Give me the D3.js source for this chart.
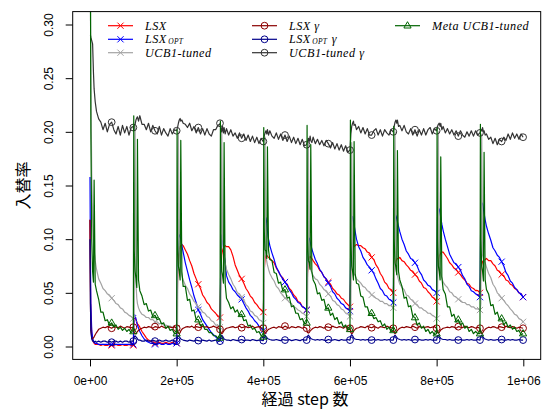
<!DOCTYPE html>
<html>
<head>
  <meta charset="utf-8">
  <title>入替率</title>
  <script src="https://cdn.jsdelivr.net/npm/d3@7/dist/d3.min.js"></script>
  <style>
    body { margin: 0; background: #fff; }
    svg { display: block; }
  </style>
</head>
<body>
  <svg width="545" height="410"></svg>
  <script>
    // step offsets inside each 1e5-step period (environment changes at every period start)
    const periodStarts = [0, 100000, 200000, 300000, 400000, 500000, 600000, 700000, 800000, 900000];
    const offsets = [0, 1000, 2000, 4000, 6000, 8000, 9500, 12000, 15000, 20000, 25000, 30000, 35000,
      40000, 45000, 50000, 55000, 60000, 65000, 70000, 75000, 80000, 85000, 90000, 95000, 99500];

    const xTicks = [0, 200000, 400000, 600000, 800000, 1000000];
    const xTickLabels = ['0e+00', '2e+05', '4e+05', '6e+05', '8e+05', '1e+06'];
    const yTicks = [0, 0.05, 0.10, 0.15, 0.20, 0.25, 0.30];
    const yTickLabels = ['0.00', '0.05', '0.10', '0.15', '0.20', '0.25', '0.30'];

    // LSX
    const lsx = [
      [0.118, 0.06, 0.03, 0.012, 0.006, 0.004, 0.003, 0.002, 0.002, 0.002, 0.001, 0.002, 0.001, 0.001, 0.002, 0.001, 0.001, 0.002, 0.001, 0.001, 0.002, 0.001, 0.001, 0.002, 0.001, 0.001],
      [0.001, 0.02, 0.028, 0.027, 0.025, 0.023, 0.021, 0.02, 0.018, 0.014, 0.011, 0.008, 0.006, 0.005, 0.004, 0.003, 0.003, 0.004, 0.003, 0.003, 0.004, 0.003, 0.003, 0.004, 0.003, 0.003],
      [0.003, 0.03, 0.06, 0.085, 0.09, 0.093, 0.094, 0.095, 0.094, 0.09, 0.086, 0.08, 0.075, 0.068, 0.063, 0.058, 0.054, 0.048, 0.045, 0.041, 0.039, 0.035, 0.033, 0.031, 0.028, 0.027],
      [0.027, 0.05, 0.07, 0.085, 0.09, 0.092, 0.093, 0.094, 0.093, 0.093, 0.09, 0.084, 0.076, 0.071, 0.066, 0.063, 0.059, 0.054, 0.051, 0.047, 0.045, 0.041, 0.039, 0.036, 0.034, 0.032],
      [0.032, 0.05, 0.07, 0.082, 0.085, 0.085, 0.084, 0.083, 0.082, 0.08, 0.078, 0.073, 0.07, 0.066, 0.064, 0.06, 0.058, 0.054, 0.052, 0.048, 0.046, 0.042, 0.041, 0.037, 0.036, 0.034],
      [0.034, 0.05, 0.068, 0.08, 0.083, 0.084, 0.083, 0.082, 0.08, 0.077, 0.075, 0.071, 0.069, 0.065, 0.063, 0.06, 0.058, 0.054, 0.052, 0.049, 0.048, 0.045, 0.044, 0.041, 0.039, 0.037],
      [0.037, 0.055, 0.075, 0.088, 0.092, 0.093, 0.093, 0.094, 0.095, 0.094, 0.094, 0.092, 0.091, 0.088, 0.087, 0.083, 0.081, 0.076, 0.073, 0.068, 0.065, 0.06, 0.058, 0.054, 0.053, 0.05],
      [0.05, 0.06, 0.07, 0.077, 0.08, 0.081, 0.082, 0.082, 0.083, 0.08, 0.079, 0.076, 0.074, 0.071, 0.07, 0.067, 0.065, 0.061, 0.059, 0.055, 0.054, 0.051, 0.049, 0.046, 0.045, 0.042],
      [0.042, 0.055, 0.07, 0.08, 0.084, 0.086, 0.087, 0.088, 0.088, 0.085, 0.082, 0.078, 0.076, 0.073, 0.072, 0.069, 0.067, 0.064, 0.062, 0.059, 0.058, 0.055, 0.054, 0.052, 0.052, 0.05],
      [0.05, 0.06, 0.07, 0.076, 0.079, 0.08, 0.08, 0.081, 0.082, 0.08, 0.08, 0.077, 0.075, 0.071, 0.07, 0.067, 0.066, 0.062, 0.061, 0.058, 0.057, 0.054, 0.053, 0.05, 0.049, 0.046]
    ];

    // LSX_OPT
    const lsxOpt = [
      [0.158, 0.08, 0.04, 0.015, 0.008, 0.005, 0.004, 0.003, 0.003, 0.002, 0.002, 0.002, 0.002, 0.002, 0.002, 0.002, 0.002, 0.002, 0.002, 0.002, 0.002, 0.002, 0.002, 0.002, 0.002, 0.002],
      [0.002, 0.02, 0.03, 0.029, 0.026, 0.022, 0.02, 0.017, 0.014, 0.01, 0.007, 0.005, 0.004, 0.003, 0.003, 0.002, 0.002, 0.003, 0.002, 0.002, 0.003, 0.002, 0.002, 0.003, 0.002, 0.002],
      [0.003, 0.04, 0.08, 0.1, 0.104, 0.103, 0.1, 0.094, 0.088, 0.078, 0.07, 0.062, 0.055, 0.047, 0.041, 0.034, 0.03, 0.025, 0.022, 0.019, 0.016, 0.013, 0.011, 0.009, 0.007, 0.006],
      [0.006, 0.05, 0.09, 0.104, 0.1, 0.092, 0.086, 0.078, 0.066, 0.06, 0.057, 0.053, 0.051, 0.048, 0.046, 0.044, 0.04, 0.036, 0.033, 0.029, 0.027, 0.024, 0.022, 0.019, 0.017, 0.015],
      [0.015, 0.06, 0.1, 0.118, 0.12, 0.115, 0.108, 0.1, 0.094, 0.087, 0.081, 0.074, 0.07, 0.066, 0.063, 0.06, 0.057, 0.053, 0.05, 0.046, 0.044, 0.041, 0.04, 0.037, 0.036, 0.034],
      [0.034, 0.06, 0.09, 0.1, 0.101, 0.098, 0.095, 0.091, 0.087, 0.081, 0.077, 0.072, 0.069, 0.065, 0.063, 0.059, 0.056, 0.051, 0.049, 0.045, 0.043, 0.04, 0.039, 0.036, 0.035, 0.033],
      [0.033, 0.07, 0.105, 0.12, 0.121, 0.117, 0.113, 0.107, 0.1, 0.093, 0.089, 0.083, 0.08, 0.076, 0.074, 0.071, 0.068, 0.063, 0.059, 0.054, 0.052, 0.048, 0.047, 0.044, 0.043, 0.041],
      [0.041, 0.08, 0.11, 0.122, 0.122, 0.119, 0.116, 0.112, 0.107, 0.1, 0.095, 0.089, 0.086, 0.082, 0.081, 0.078, 0.075, 0.07, 0.067, 0.062, 0.06, 0.057, 0.056, 0.053, 0.052, 0.05],
      [0.05, 0.09, 0.12, 0.129, 0.128, 0.124, 0.12, 0.114, 0.108, 0.1, 0.093, 0.086, 0.082, 0.078, 0.077, 0.074, 0.071, 0.066, 0.063, 0.058, 0.056, 0.052, 0.051, 0.049, 0.048, 0.046],
      [0.046, 0.09, 0.125, 0.134, 0.133, 0.128, 0.124, 0.118, 0.112, 0.105, 0.099, 0.092, 0.089, 0.085, 0.083, 0.079, 0.075, 0.069, 0.066, 0.061, 0.059, 0.055, 0.053, 0.05, 0.049, 0.046]
    ];

    // UCB1-tuned
    const ucb = [
      [0.35, 0.32, 0.25, 0.16, 0.12, 0.1, 0.09, 0.08, 0.072, 0.063, 0.059, 0.054, 0.052, 0.049, 0.048, 0.045, 0.043, 0.04, 0.039, 0.036, 0.035, 0.032, 0.031, 0.029, 0.028, 0.026],
      [0.026, 0.027, 0.028, 0.205, 0.06, 0.045, 0.04, 0.036, 0.033, 0.03, 0.029, 0.027, 0.027, 0.025, 0.025, 0.023, 0.023, 0.021, 0.022, 0.02, 0.02, 0.019, 0.019, 0.018, 0.018, 0.017],
      [0.017, 0.018, 0.02, 0.2, 0.09, 0.078, 0.072, 0.066, 0.062, 0.057, 0.054, 0.049, 0.046, 0.042, 0.04, 0.037, 0.035, 0.032, 0.031, 0.028, 0.027, 0.024, 0.023, 0.02, 0.02, 0.018],
      [0.018, 0.02, 0.022, 0.205, 0.1, 0.09, 0.085, 0.078, 0.072, 0.067, 0.063, 0.058, 0.055, 0.05, 0.049, 0.046, 0.043, 0.039, 0.037, 0.033, 0.032, 0.029, 0.028, 0.025, 0.024, 0.022],
      [0.022, 0.024, 0.026, 0.195, 0.085, 0.079, 0.076, 0.072, 0.068, 0.064, 0.061, 0.056, 0.054, 0.05, 0.048, 0.045, 0.044, 0.041, 0.04, 0.037, 0.036, 0.034, 0.033, 0.031, 0.03, 0.028],
      [0.028, 0.03, 0.032, 0.19, 0.075, 0.072, 0.071, 0.069, 0.066, 0.063, 0.062, 0.058, 0.056, 0.053, 0.052, 0.049, 0.047, 0.043, 0.042, 0.039, 0.038, 0.035, 0.034, 0.031, 0.031, 0.028],
      [0.028, 0.03, 0.032, 0.19, 0.075, 0.07, 0.068, 0.066, 0.063, 0.061, 0.059, 0.056, 0.055, 0.052, 0.051, 0.048, 0.047, 0.045, 0.044, 0.042, 0.042, 0.04, 0.04, 0.038, 0.038, 0.036],
      [0.036, 0.038, 0.04, 0.2, 0.072, 0.068, 0.066, 0.062, 0.058, 0.055, 0.053, 0.048, 0.047, 0.044, 0.043, 0.04, 0.039, 0.036, 0.036, 0.034, 0.033, 0.031, 0.031, 0.029, 0.028, 0.026],
      [0.026, 0.028, 0.03, 0.2, 0.075, 0.07, 0.068, 0.064, 0.06, 0.057, 0.055, 0.051, 0.05, 0.047, 0.046, 0.044, 0.043, 0.041, 0.041, 0.039, 0.039, 0.037, 0.037, 0.035, 0.035, 0.034],
      [0.034, 0.036, 0.04, 0.198, 0.085, 0.082, 0.08, 0.078, 0.074, 0.068, 0.064, 0.058, 0.055, 0.05, 0.048, 0.045, 0.043, 0.04, 0.038, 0.035, 0.033, 0.03, 0.029, 0.026, 0.025, 0.023]
    ];

    // LSX γ
    const lsxG = [
      [0.118, 0.04, 0.015, 0.008, 0.007, 0.008, 0.009, 0.011, 0.013, 0.016, 0.017, 0.018, 0.0175, 0.0185, 0.018, 0.017, 0.0185, 0.018, 0.0175, 0.019, 0.018, 0.017, 0.0185, 0.018, 0.0175, 0.018],
      [0.018, 0.015, 0.013, 0.012, 0.012, 0.013, 0.014, 0.015, 0.016, 0.017, 0.018, 0.0175, 0.0185, 0.018, 0.017, 0.0185, 0.018, 0.0175, 0.019, 0.018, 0.017, 0.0185, 0.018, 0.0175, 0.0185, 0.017],
      [0.017, 0.015, 0.013, 0.0125, 0.012, 0.013, 0.0145, 0.016, 0.017, 0.018, 0.0185, 0.018, 0.019, 0.0175, 0.0185, 0.018, 0.0175, 0.019, 0.018, 0.0185, 0.0175, 0.018, 0.019, 0.018, 0.0175, 0.016],
      [0.016, 0.014, 0.0125, 0.012, 0.0125, 0.014, 0.015, 0.016, 0.017, 0.0175, 0.018, 0.0185, 0.0175, 0.018, 0.019, 0.0175, 0.018, 0.0185, 0.0175, 0.018, 0.019, 0.0175, 0.018, 0.0185, 0.0175, 0.017],
      [0.017, 0.015, 0.013, 0.012, 0.013, 0.014, 0.015, 0.016, 0.0165, 0.0175, 0.018, 0.017, 0.0185, 0.018, 0.0175, 0.019, 0.018, 0.017, 0.0185, 0.018, 0.0175, 0.0185, 0.018, 0.017, 0.018, 0.017],
      [0.017, 0.0145, 0.013, 0.0125, 0.013, 0.0145, 0.015, 0.016, 0.017, 0.018, 0.0175, 0.0185, 0.018, 0.017, 0.0185, 0.018, 0.0175, 0.019, 0.018, 0.0175, 0.0185, 0.018, 0.017, 0.0185, 0.018, 0.017],
      [0.017, 0.015, 0.013, 0.012, 0.0125, 0.014, 0.015, 0.016, 0.017, 0.0175, 0.0185, 0.018, 0.0175, 0.019, 0.018, 0.0175, 0.0185, 0.018, 0.017, 0.0185, 0.018, 0.0175, 0.019, 0.018, 0.0175, 0.017],
      [0.017, 0.0145, 0.013, 0.012, 0.013, 0.014, 0.015, 0.016, 0.017, 0.018, 0.0175, 0.0185, 0.018, 0.0175, 0.019, 0.018, 0.017, 0.0185, 0.018, 0.0175, 0.018, 0.0185, 0.0175, 0.018, 0.0185, 0.017],
      [0.017, 0.015, 0.013, 0.0125, 0.013, 0.0145, 0.0155, 0.016, 0.017, 0.0175, 0.018, 0.0175, 0.0185, 0.018, 0.017, 0.0185, 0.018, 0.0175, 0.019, 0.018, 0.0175, 0.0185, 0.018, 0.017, 0.018, 0.017],
      [0.017, 0.0145, 0.013, 0.012, 0.0125, 0.014, 0.015, 0.016, 0.017, 0.018, 0.0175, 0.0185, 0.018, 0.017, 0.0185, 0.018, 0.0175, 0.019, 0.018, 0.0175, 0.0185, 0.018, 0.017, 0.018, 0.0175, 0.017]
    ];

    // LSX_OPT γ
    const lsxOptG = [
      [0.1, 0.04, 0.015, 0.007, 0.005, 0.005, 0.004, 0.005, 0.004, 0.005, 0.004, 0.005, 0.005, 0.004, 0.005, 0.004, 0.005, 0.005, 0.004, 0.005, 0.004, 0.005, 0.005, 0.004, 0.005, 0.005],
      [0.005, 0.007, 0.009, 0.01, 0.009, 0.008, 0.007, 0.006, 0.006, 0.005, 0.005, 0.006, 0.005, 0.005, 0.006, 0.005, 0.005, 0.006, 0.005, 0.005, 0.006, 0.005, 0.005, 0.006, 0.005, 0.005],
      [0.005, 0.007, 0.0095, 0.01, 0.009, 0.008, 0.007, 0.0065, 0.006, 0.0055, 0.005, 0.006, 0.0055, 0.005, 0.006, 0.0055, 0.005, 0.006, 0.0055, 0.005, 0.006, 0.005, 0.0055, 0.006, 0.005, 0.005],
      [0.005, 0.0075, 0.009, 0.0105, 0.0095, 0.008, 0.007, 0.0065, 0.006, 0.006, 0.0055, 0.0065, 0.006, 0.0055, 0.006, 0.0065, 0.0055, 0.006, 0.006, 0.0055, 0.0065, 0.006, 0.0055, 0.006, 0.006, 0.0055],
      [0.0055, 0.0075, 0.0095, 0.0105, 0.0095, 0.0085, 0.0075, 0.007, 0.0065, 0.006, 0.006, 0.0065, 0.006, 0.0055, 0.0065, 0.006, 0.006, 0.0065, 0.0055, 0.006, 0.0065, 0.006, 0.0055, 0.0065, 0.006, 0.006],
      [0.006, 0.008, 0.0095, 0.0105, 0.0095, 0.0085, 0.0075, 0.007, 0.0065, 0.006, 0.0065, 0.006, 0.0065, 0.006, 0.0055, 0.0065, 0.006, 0.006, 0.0065, 0.006, 0.0055, 0.0065, 0.006, 0.006, 0.0065, 0.006],
      [0.006, 0.008, 0.01, 0.011, 0.01, 0.0085, 0.0075, 0.007, 0.0065, 0.0065, 0.006, 0.0065, 0.006, 0.0065, 0.006, 0.006, 0.0065, 0.006, 0.0065, 0.006, 0.006, 0.0065, 0.006, 0.0065, 0.006, 0.006],
      [0.006, 0.008, 0.0095, 0.0105, 0.0095, 0.0085, 0.0075, 0.007, 0.0065, 0.006, 0.0065, 0.006, 0.0065, 0.006, 0.006, 0.0065, 0.006, 0.0065, 0.006, 0.006, 0.0065, 0.006, 0.0065, 0.006, 0.006, 0.006],
      [0.006, 0.008, 0.01, 0.0105, 0.0095, 0.0085, 0.0075, 0.007, 0.0065, 0.0065, 0.006, 0.0065, 0.006, 0.006, 0.0065, 0.006, 0.0065, 0.006, 0.006, 0.0065, 0.006, 0.0065, 0.006, 0.006, 0.0065, 0.006],
      [0.006, 0.008, 0.0095, 0.0105, 0.0095, 0.0085, 0.0075, 0.007, 0.0065, 0.006, 0.0065, 0.006, 0.006, 0.0065, 0.006, 0.0065, 0.006, 0.006, 0.0065, 0.006, 0.0065, 0.006, 0.006, 0.0065, 0.006, 0.006]
    ];

    // UCB1-tuned γ
    const ucbG = [
      [0.29, 0.29, 0.288, 0.285, 0.282, 0.255, 0.24, 0.228, 0.219, 0.212, 0.209, 0.202, 0.208, 0.2, 0.207, 0.209, 0.202, 0.198, 0.205, 0.197, 0.206, 0.199, 0.205, 0.197, 0.204, 0.205],
      [0.204, 0.201, 0.206, 0.207, 0.211, 0.213, 0.214, 0.21, 0.215, 0.207, 0.207, 0.202, 0.208, 0.2, 0.206, 0.201, 0.198, 0.205, 0.197, 0.203, 0.199, 0.196, 0.203, 0.198, 0.202, 0.201],
      [0.201, 0.203, 0.204, 0.208, 0.211, 0.2125, 0.21, 0.211, 0.208, 0.207, 0.204, 0.208, 0.201, 0.205, 0.199, 0.204, 0.198, 0.203, 0.197, 0.203, 0.198, 0.196, 0.202, 0.202, 0.206, 0.207],
      [0.208, 0.205, 0.204, 0.2, 0.205, 0.199, 0.204, 0.198, 0.203, 0.197, 0.202, 0.196, 0.199, 0.194, 0.199, 0.194, 0.198, 0.192, 0.197, 0.191, 0.196, 0.19, 0.195, 0.189, 0.194, 0.191],
      [0.191, 0.193, 0.196, 0.199, 0.201, 0.198, 0.202, 0.197, 0.201, 0.196, 0.194, 0.199, 0.193, 0.198, 0.192, 0.197, 0.191, 0.196, 0.19, 0.195, 0.189, 0.194, 0.188, 0.193, 0.187, 0.188],
      [0.188, 0.19, 0.191, 0.194, 0.191, 0.196, 0.192, 0.19, 0.195, 0.189, 0.193, 0.188, 0.192, 0.187, 0.192, 0.189, 0.185, 0.19, 0.184, 0.189, 0.183, 0.188, 0.182, 0.187, 0.181, 0.183],
      [0.183, 0.19, 0.198, 0.205, 0.208, 0.21, 0.206, 0.207, 0.202, 0.205, 0.199, 0.204, 0.198, 0.203, 0.197, 0.197, 0.201, 0.203, 0.197, 0.202, 0.196, 0.202, 0.199, 0.197, 0.202, 0.2],
      [0.2, 0.202, 0.205, 0.209, 0.211, 0.208, 0.211, 0.205, 0.206, 0.201, 0.206, 0.2, 0.198, 0.203, 0.197, 0.202, 0.196, 0.202, 0.197, 0.203, 0.197, 0.202, 0.204, 0.198, 0.203, 0.201],
      [0.201, 0.203, 0.205, 0.207, 0.208, 0.205, 0.208, 0.202, 0.205, 0.199, 0.203, 0.198, 0.202, 0.197, 0.201, 0.196, 0.201, 0.197, 0.195, 0.2, 0.196, 0.201, 0.196, 0.201, 0.197, 0.199],
      [0.199, 0.2, 0.202, 0.201, 0.204, 0.2, 0.201, 0.197, 0.198, 0.193, 0.195, 0.189, 0.194, 0.188, 0.193, 0.191, 0.195, 0.192, 0.198, 0.193, 0.199, 0.194, 0.198, 0.193, 0.198, 0.195]
    ];

    // Meta UCB1-tuned
    const meta = [
      [0.4, 0.35, 0.2, 0.1, 0.07, 0.06, 0.155, 0.058, 0.052, 0.044, 0.032, 0.032, 0.024, 0.025, 0.02, 0.022, 0.018, 0.02, 0.016, 0.018, 0.015, 0.017, 0.014, 0.016, 0.013, 0.014],
      [0.014, 0.215, 0.09, 0.07, 0.064, 0.055, 0.193, 0.062, 0.052, 0.047, 0.039, 0.04, 0.033, 0.034, 0.028, 0.029, 0.025, 0.026, 0.021, 0.022, 0.017, 0.019, 0.015, 0.016, 0.012, 0.012],
      [0.012, 0.202, 0.1, 0.075, 0.07, 0.062, 0.192, 0.07, 0.056, 0.056, 0.043, 0.044, 0.033, 0.034, 0.025, 0.025, 0.019, 0.021, 0.016, 0.016, 0.013, 0.013, 0.01, 0.01, 0.008, 0.008],
      [0.008, 0.21, 0.1, 0.07, 0.066, 0.059, 0.19, 0.058, 0.045, 0.041, 0.035, 0.037, 0.032, 0.034, 0.029, 0.03, 0.024, 0.025, 0.019, 0.02, 0.016, 0.017, 0.013, 0.014, 0.01, 0.009],
      [0.009, 0.204, 0.11, 0.09, 0.089, 0.082, 0.186, 0.09, 0.081, 0.08, 0.069, 0.068, 0.059, 0.06, 0.052, 0.053, 0.045, 0.046, 0.037, 0.038, 0.031, 0.031, 0.025, 0.026, 0.021, 0.022],
      [0.022, 0.206, 0.1, 0.08, 0.078, 0.072, 0.188, 0.07, 0.062, 0.058, 0.049, 0.05, 0.043, 0.044, 0.035, 0.036, 0.029, 0.031, 0.025, 0.027, 0.021, 0.023, 0.018, 0.02, 0.016, 0.016],
      [0.016, 0.211, 0.1, 0.075, 0.07, 0.062, 0.191, 0.068, 0.059, 0.058, 0.047, 0.046, 0.037, 0.037, 0.03, 0.031, 0.026, 0.027, 0.023, 0.024, 0.019, 0.021, 0.016, 0.018, 0.014, 0.015],
      [0.015, 0.205, 0.1, 0.078, 0.074, 0.067, 0.1825, 0.07, 0.062, 0.056, 0.045, 0.046, 0.037, 0.038, 0.028, 0.027, 0.02, 0.022, 0.017, 0.019, 0.014, 0.016, 0.012, 0.014, 0.011, 0.012],
      [0.012, 0.2036, 0.1, 0.075, 0.07, 0.062, 0.1766, 0.065, 0.053, 0.049, 0.037, 0.037, 0.028, 0.03, 0.023, 0.025, 0.02, 0.022, 0.017, 0.019, 0.014, 0.016, 0.012, 0.014, 0.012, 0.012],
      [0.012, 0.207, 0.1, 0.075, 0.07, 0.061, 0.181, 0.062, 0.053, 0.049, 0.038, 0.039, 0.03, 0.032, 0.025, 0.026, 0.02, 0.023, 0.018, 0.02, 0.016, 0.018, 0.014, 0.015, 0.011, 0.012]
    ];

    // legend labels: [main text, small "OPT" part, tail]
    const seriesLabels = [
      ['LSX', '', ''], ['LSX', 'OPT', ''], ['UCB1-tuned', '', ''],
      ['LSX γ', '', ''], ['LSX', 'OPT', '\u00a0γ'], ['UCB1-tuned γ', '', ''],
      ['Meta UCB1-tuned', '', '']
    ];
    const seriesValues = [lsx, lsxOpt, ucb, lsxG, lsxOptG, ucbG, meta];
    const seriesColors = ['#ff0000', '#0000ff', '#a3a3a3', '#8b0000', '#00008b', '#333333', '#006400'];
    const seriesSymbols = ['x', 'x', 'x', 'o', 'o', 'o', 't'];

    const svg = d3.select('svg');
    const box = { left: 72.7, right: 540.7, top: 11.6, bottom: 359.4 };

    const x = d3.scaleLinear().domain([0, 1000000]).range([90, 523.3]);
    const y = d3.scaleLinear().domain([0, 0.3]).range([346.5, 24.5]);

    svg.append('defs').append('clipPath').attr('id', 'plotClip')
      .append('rect')
      .attr('x', box.left).attr('y', box.top)
      .attr('width', box.right - box.left).attr('height', box.bottom - box.top);

    const steps = periodStarts.flatMap(p => offsets.map(o => p + o));
    const series = seriesValues.map((vals, i) => {
      const flat = vals.flat();
      return {
        label: seriesLabels[i],
        color: seriesColors[i],
        symbol: seriesSymbols[i],
        points: flat.map((v, j) => ({ step: steps[j], value: v }))
      };
    });

    function drawSymbol(g, type, cx, cy, color) {
      if (type === 'x') {
        const r = 3.1;
        g.append('path')
          .attr('d', `M${cx - r},${cy - r}L${cx + r},${cy + r}M${cx - r},${cy + r}L${cx + r},${cy - r}`)
          .attr('stroke', color).attr('stroke-width', 1).attr('fill', 'none');
      } else if (type === 'o') {
        g.append('circle').attr('cx', cx).attr('cy', cy).attr('r', 3.4)
          .attr('stroke', color).attr('stroke-width', 1).attr('fill', 'none');
      } else {
        g.append('path')
          .attr('d', `M${cx},${cy - 4}L${cx + 3.6},${cy + 2.3}L${cx - 3.6},${cy + 2.3}Z`)
          .attr('stroke', color).attr('stroke-width', 1).attr('fill', 'none');
      }
    }

    const line = d3.line().x(d => x(d.step)).y(d => y(d.value));
    const plot = svg.append('g').attr('clip-path', 'url(#plotClip)');

    series.forEach(s => {
      const g = plot.append('g');
      g.append('path')
        .datum(s.points)
        .attr('d', line)
        .attr('fill', 'none')
        .attr('stroke', s.color)
        .attr('stroke-width', 1.2)
        .attr('stroke-linejoin', 'round');
      // symbols every 50000 steps
      const marks = s.points.filter((d, j) => d.step > 0 && (d.step % 50000 === 0 || j === s.points.length - 1));
      marks.forEach(d => drawSymbol(g, s.symbol, x(d.step), y(d.value), s.color));
    });

    // frame
    svg.append('rect')
      .attr('x', box.left).attr('y', box.top)
      .attr('width', box.right - box.left).attr('height', box.bottom - box.top)
      .attr('fill', 'none').attr('stroke', '#000').attr('stroke-width', 1);

    // axes
    const xAxis = svg.append('g')
      .attr('transform', `translate(0,${box.bottom})`)
      .call(d3.axisBottom(x).tickValues(xTicks).tickSize(7).tickFormat((d, i) => xTickLabels[i]));
    xAxis.select('.domain').remove();
    xAxis.selectAll('text')
      .attr('y', 17.5).attr('dy', '0.71em')
      .style('font-family', '"Liberation Sans", Arial, sans-serif').style('font-size', '12px').attr('fill', '#000');

    const yAxis = svg.append('g')
      .attr('transform', `translate(${box.left},0)`)
      .call(d3.axisLeft(y).tickValues(yTicks).tickSize(7).tickFormat((d, i) => yTickLabels[i]));
    yAxis.select('.domain').remove();
    yAxis.selectAll('.tick text')
      .attr('x', null).attr('dy', null)
      .attr('transform', 'translate(-19.5,0) rotate(-90)')
      .attr('text-anchor', 'middle')
      .style('font-family', '"Liberation Sans", Arial, sans-serif').style('font-size', '12px').attr('fill', '#000');

    // axis titles
    svg.append('text')
      .attr('x', 305).attr('y', 405)
      .attr('text-anchor', 'middle')
      .style('font-family', '"Noto Sans CJK JP", sans-serif').style('font-size', '16px')
      .text('経過 step 数');

    svg.append('text')
      .attr('transform', `translate(29,${(box.top + box.bottom) / 2}) rotate(-90)`)
      .attr('text-anchor', 'middle')
      .style('font-family', '"Noto Sans CJK JP", sans-serif').style('font-size', '16px')
      .text('入替率');

    // legend (no frame)
    const legend = svg.append('g');
    const colX = [108, 252, 395];
    const rowY = [25.7, 39.3, 52.7];
    const legendFont = '"Liberation Serif", "Times New Roman", serif';

    function legendText(tx, ty, str, size, spacing) {
      const t = legend.append('text')
        .attr('x', tx).attr('y', ty)
        .style('font-family', legendFont)
        .style('font-style', 'italic').style('font-size', size + 'px')
        .style('letter-spacing', spacing + 'px')
        .text(str);
      return t.node().getComputedTextLength();
    }

    series.forEach((s, i) => {
      const cx = colX[Math.floor(i / 3)];
      const cy = rowY[i % 3];
      legend.append('line')
        .attr('x1', cx).attr('x2', cx + 25).attr('y1', cy).attr('y2', cy)
        .attr('stroke', s.color).attr('stroke-width', 1.2);
      drawSymbol(legend, s.symbol, cx + 12.5, cy, s.color);

      const [main, small, tail] = s.label;
      let tx = cx + 37;
      tx += legendText(tx, cy + 4, main, 12.2, 0.5);
      if (small) tx += legendText(tx + 1.5, cy + 4.5, small, 7.5, 0.2) + 1.5;
      if (tail) legendText(tx + 1, cy + 4, tail, 12.2, 0.5);
    });
  </script>
</body>
</html>
